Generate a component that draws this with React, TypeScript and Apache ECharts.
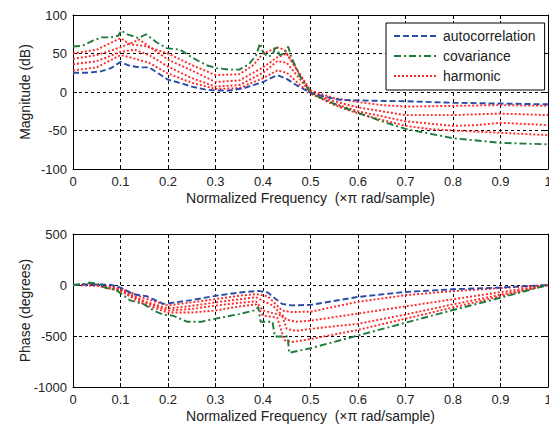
import React, { useEffect, useRef } from "react";
import * as echarts from "echarts";

// Magnitude (dB) vs normalized frequency
const magAuto: [number, number][] = [[0,25],[0.03,25],[0.06,27],[0.08,31],[0.1,39],[0.12,34],[0.14,32],[0.16,32],[0.18,24],[0.2,16],[0.23,11],[0.25,7],[0.28,3],[0.3,2],[0.33,2],[0.36,5],[0.38,9],[0.4,13],[0.42,19],[0.43,22],[0.45,17],[0.47,9],[0.5,-1],[0.53,-6],[0.56,-10],[0.6,-11],[0.7,-12],[0.8,-14],[0.9,-15],[1,-16]];
const magCov: [number, number][] = [[0,59],[0.02,60],[0.043,67],[0.06,71],[0.08,71],[0.095,73],[0.102,80],[0.11,76],[0.137,70],[0.154,75],[0.175,65],[0.197,57],[0.225,55],[0.253,44],[0.28,35],[0.302,31],[0.33,29],[0.35,29],[0.37,36],[0.385,47],[0.394,63],[0.4,52],[0.41,46],[0.42,48],[0.427,60],[0.435,48],[0.445,50],[0.453,59],[0.46,45],[0.478,20],[0.5,-1],[0.53,-10],[0.56,-18],[0.6,-27],[0.65,-38],[0.7,-48],[0.75,-54],[0.8,-60],[0.85,-63],[0.9,-66],[0.95,-67],[1,-68]];
const magHarm1: [number, number][] = [[0,50],[0.05,55],[0.1,70],[0.12,62],[0.15,60],[0.2,50],[0.25,35],[0.3,22],[0.35,23],[0.38,35],[0.4,50],[0.42,55],[0.43,58],[0.445,55],[0.46,40],[0.5,2],[0.55,-8],[0.6,-13],[0.65,-17],[0.7,-19],[0.8,-18],[0.9,-17],[1,-18]];
const magHarm2: [number, number][] = [[0,43],[0.05,48],[0.1,58],[0.14,68],[0.17,55],[0.2,42],[0.25,28],[0.3,13],[0.35,15],[0.4,32],[0.43,45],[0.45,50],[0.47,30],[0.5,0],[0.55,-12],[0.6,-20],[0.7,-30],[0.8,-30],[0.9,-28],[1,-30]];
const magHarm3: [number, number][] = [[0,36],[0.05,40],[0.1,52],[0.13,55],[0.16,48],[0.2,33],[0.25,18],[0.3,7],[0.35,9],[0.4,25],[0.43,40],[0.45,38],[0.48,15],[0.5,-1],[0.55,-15],[0.6,-25],[0.7,-38],[0.8,-44],[0.85,-43],[0.9,-40],[1,-43]];
const magHarm4: [number, number][] = [[0,28],[0.05,32],[0.1,48],[0.12,45],[0.16,38],[0.2,24],[0.25,12],[0.3,4],[0.35,5],[0.4,18],[0.43,28],[0.45,25],[0.48,8],[0.5,-2],[0.55,-17],[0.6,-28],[0.7,-44],[0.75,-48],[0.8,-50],[0.9,-53],[1,-56]];

// Phase (degrees) vs normalized frequency
const phAuto: [number, number][] = [[0,0],[0.03,5],[0.06,5],[0.08,0],[0.1,-25],[0.127,-90],[0.155,-110],[0.19,-185],[0.2,-180],[0.25,-148],[0.3,-106],[0.35,-74],[0.39,-58],[0.41,-74],[0.44,-185],[0.46,-200],[0.5,-195],[0.6,-117],[0.7,-68],[0.8,-42],[0.9,-25],[1,0]];
const phCov: [number, number][] = [[0,0],[0.02,10],[0.035,22],[0.05,15],[0.07,-30],[0.09,-45],[0.1,-80],[0.12,-150],[0.15,-190],[0.17,-250],[0.19,-290],[0.21,-300],[0.24,-360],[0.27,-360],[0.3,-330],[0.35,-285],[0.385,-245],[0.39,-215],[0.395,-360],[0.42,-360],[0.425,-505],[0.452,-505],[0.455,-665],[0.5,-620],[0.6,-495],[0.7,-370],[0.8,-245],[0.9,-125],[1,0]];
const phHarm1: [number, number][] = [[0,0],[0.05,5],[0.1,-30],[0.15,-130],[0.2,-200],[0.25,-170],[0.3,-138],[0.35,-105],[0.385,-90],[0.41,-110],[0.44,-250],[0.46,-265],[0.5,-262],[0.6,-165],[0.7,-100],[0.8,-60],[0.9,-30],[1,0]];
const phHarm2: [number, number][] = [[0,0],[0.05,0],[0.1,-40],[0.15,-160],[0.2,-230],[0.25,-205],[0.3,-170],[0.35,-140],[0.385,-120],[0.42,-200],[0.45,-340],[0.47,-360],[0.5,-350],[0.6,-280],[0.7,-210],[0.8,-140],[0.9,-70],[1,0]];
const phHarm3: [number, number][] = [[0,0],[0.05,-5],[0.1,-50],[0.15,-170],[0.2,-250],[0.25,-235],[0.3,-202],[0.35,-175],[0.385,-160],[0.4,-250],[0.44,-300],[0.45,-430],[0.47,-450],[0.5,-430],[0.6,-380],[0.7,-290],[0.8,-190],[0.9,-95],[1,0]];
const phHarm4: [number, number][] = [[0,0],[0.05,-5],[0.1,-60],[0.15,-190],[0.2,-270],[0.25,-270],[0.3,-250],[0.35,-210],[0.385,-190],[0.4,-300],[0.43,-320],[0.445,-540],[0.46,-560],[0.5,-530],[0.6,-440],[0.7,-330],[0.8,-220],[0.9,-110],[1,0]];

const legendNames = ["autocorrelation", "covariance", "harmonic"];
const magTicks = { min: -100, max: 100, interval: 50 };
const phTicks = { min: -1000, max: 500, interval: 500 };
const freqTicks = { min: 0, max: 1, interval: 0.1 };
const xName = "Normalized Frequency  (\u00d7\u03c0 rad/sample)";

const FONT = "'Liberation Sans', Arial, sans-serif";
const BLUE = "#2b4ba8";
const GREEN = "#1f7a3c";
const RED = "#ff2a2a";

export default function App() {
  const ref = useRef<HTMLDivElement>(null);
  useEffect(() => {
    document.body.style.margin = "0";
    if (!ref.current) return;
    const chart = echarts.init(ref.current, undefined, { renderer: "svg" });

    const fmtX = (v: number) => String(Number(v.toFixed(1)));
    const fmtY = (v: number) => String(v);
    const labelStyle = { color: "#222", fontSize: 13, fontFamily: FONT };
    const nameStyle = { color: "#222", fontSize: 14, fontFamily: FONT };
    const splitLine = { show: true, lineStyle: { type: [3, 3] as any, color: "#000", width: 1 } };
    const axisLine = { show: true, onZero: false, lineStyle: { color: "#000", width: 1 } };
    const tick = { show: true, inside: true, length: 4, lineStyle: { color: "#000" } };

    const mkX = (grid: number) => [
      {
        type: "value", gridIndex: grid, ...freqTicks,
        axisLine, axisTick: tick, splitLine,
        axisLabel: { ...labelStyle, margin: 6, formatter: fmtX },
        name: xName, nameLocation: "middle", nameGap: 22, nameMoveOverlap: false,
        nameTextStyle: { ...nameStyle },
      },
      {
        type: "value", gridIndex: grid, position: "top", ...freqTicks,
        axisLine, axisTick: tick, splitLine: { show: false }, axisLabel: { show: false },
      },
    ];
    const mkY = (grid: number, t: any, name: string) => [
      {
        type: "value", gridIndex: grid, ...t,
        axisLine, axisTick: tick, splitLine,
        axisLabel: { ...labelStyle, margin: 6, formatter: fmtY },
        name, nameLocation: "middle", nameGap: 41, nameMoveOverlap: false,
        nameTextStyle: { ...nameStyle },
      },
      {
        type: "value", gridIndex: grid, position: "right", ...t,
        axisLine, axisTick: tick, splitLine: { show: false }, axisLabel: { show: false },
      },
    ];

    const line = (name: string, data: [number, number][], color: string, type: any, xi: number, yi: number, z = 2) => ({
      type: "line", name, data, xAxisIndex: xi, yAxisIndex: yi, symbol: "none", showSymbol: false,
      lineStyle: { color, width: 1.9, type }, itemStyle: { color }, z,
    });
    const DASH = [6, 3];
    const DASHDOT = [7, 3, 2, 3];
    const DOT = [2, 2];

    chart.setOption({
      animation: false,
      backgroundColor: "#fff",
      textStyle: { fontFamily: FONT },
      grid: [
        { left: 73, top: 15, width: 475, height: 154, outerBoundsMode: "none", containLabel: false },
        { left: 73, top: 234, width: 475, height: 153, outerBoundsMode: "none", containLabel: false },
      ],
      xAxis: [...mkX(0), ...mkX(1)],
      yAxis: [...mkY(0, magTicks, "Magnitude (dB)"), ...mkY(1, phTicks, "Phase (degrees)")],
      legend: {
        data: legendNames,
        orient: "vertical", left: 386, top: 23,
        padding: [6, 9, 7, 7], itemGap: 6, itemWidth: 44, itemHeight: 14,
        borderColor: "#000", borderWidth: 1, backgroundColor: "#fff",
        itemStyle: { opacity: 0, color: "rgba(0,0,0,0)", borderWidth: 0 },
        textStyle: { ...nameStyle }, z: 10,
      },
      series: [
        line("autocorrelation", magAuto, BLUE, DASH, 0, 0, 3),
        line("covariance", magCov, GREEN, DASHDOT, 0, 0, 3),
        line("harmonic", magHarm1, RED, DOT, 0, 0),
        line("harmonic", magHarm2, RED, DOT, 0, 0),
        line("harmonic", magHarm3, RED, DOT, 0, 0),
        line("harmonic", magHarm4, RED, DOT, 0, 0),
        line("autocorrelation", phAuto, BLUE, DASH, 2, 2, 3),
        line("covariance", phCov, GREEN, DASHDOT, 2, 2, 3),
        line("harmonic", phHarm1, RED, DOT, 2, 2),
        line("harmonic", phHarm2, RED, DOT, 2, 2),
        line("harmonic", phHarm3, RED, DOT, 2, 2),
        line("harmonic", phHarm4, RED, DOT, 2, 2),
      ],
    });
    return () => chart.dispose();
  }, []);
  return <div ref={ref} style={{ width: 549, height: 429 }} />;
}
